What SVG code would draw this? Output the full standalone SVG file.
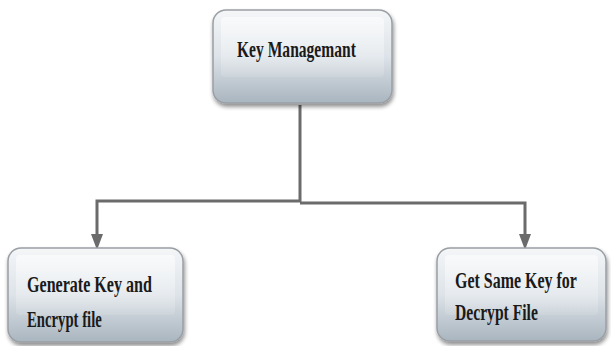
<svg xmlns="http://www.w3.org/2000/svg" width="611" height="346" viewBox="0 0 611 346">
<defs>
<linearGradient id="g" x1="0" y1="0" x2="0" y2="1">
<stop offset="0" stop-color="#f4f6f8"/>
<stop offset="0.5" stop-color="#dde3e8"/>
<stop offset="1" stop-color="#a9b5bf"/>
</linearGradient>
<linearGradient id="hl" x1="0" y1="0" x2="0" y2="1">
<stop offset="0" stop-color="#ffffff" stop-opacity="0.55"/>
<stop offset="1" stop-color="#ffffff" stop-opacity="0.1"/>
</linearGradient>
<filter id="sh" x="-10%" y="-10%" width="125%" height="130%">
<feGaussianBlur in="SourceAlpha" stdDeviation="2"/>
<feOffset dx="1" dy="3"/>
<feComponentTransfer><feFuncA type="linear" slope="0.45"/></feComponentTransfer>
<feMerge><feMergeNode/><feMergeNode in="SourceGraphic"/></feMerge>
</filter>
</defs>
<style>
.box{fill:url(#g);stroke:#9a9fa4;stroke-width:1.5;filter:url(#sh)}
.hl{fill:url(#hl)}
.t{font-family:"Liberation Serif","Times New Roman",serif;font-weight:bold;font-size:23px;fill:#1a1a1a}
.c{fill:none;stroke:#6b6b6b;stroke-width:3}
.ah{fill:#6b6b6b}
</style>
<rect width="611" height="346" fill="#fff"/>
<g id="connectors">
<path class="c" d="M300,105 V202"/>
<path class="c" d="M300,201 H97 V236"/>
<path class="c" d="M300,203 H525 V236"/>
<path class="ah" d="M91,234 L103,234 L97,250 Z"/>
<path class="ah" d="M519,234 L531,234 L525,250 Z"/>
</g>
<g id="key-management">
<rect class="box" x="213" y="10" width="179" height="93" rx="13"/>
<rect class="hl" x="221" y="17" width="163" height="60" rx="4"/>
<text class="t" transform="translate(237,57) scale(0.677,1)">Key Managemant</text>
</g>
<g id="generate-key">
<rect class="box" x="8" y="248" width="175" height="94" rx="13"/>
<rect class="hl" x="16" y="255" width="159" height="60" rx="4"/>
<text class="t" transform="translate(27,292) scale(0.699,1)">Generate Key and</text>
<text class="t" transform="translate(27,327) scale(0.64,1)">Encrypt file</text>
</g>
<g id="get-same-key">
<rect class="box" x="437" y="248" width="169" height="93" rx="13"/>
<rect class="hl" x="445" y="255" width="153" height="60" rx="4"/>
<text class="t" transform="translate(455,288) scale(0.694,1)">Get Same Key for</text>
<text class="t" transform="translate(455,320) scale(0.68,1)">Decrypt File</text>
</g>
</svg>
